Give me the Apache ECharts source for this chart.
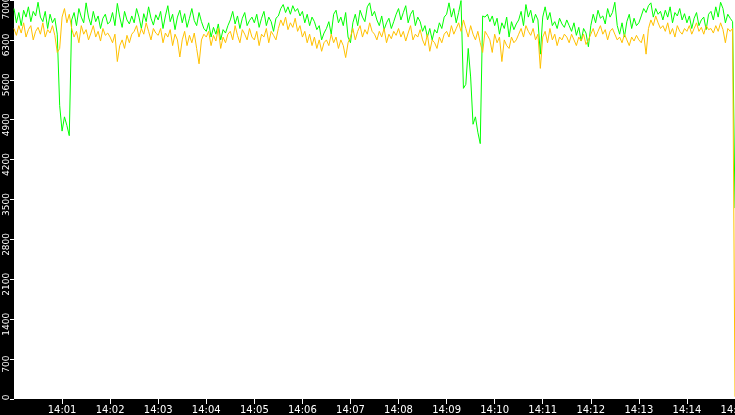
<!DOCTYPE html>
<html><head><meta charset="utf-8">
<script src="https://cdn.jsdelivr.net/npm/echarts@6/dist/echarts.min.js"></script>
<style>html,body{margin:0;padding:0;background:#000;overflow:hidden}#c{width:735px;height:415px}</style>
</head><body><div id="c"></div>
<script>
// sampling: one reading every 3 s from 14:00:00 to 14:15:00
const startHour = 14;
const sampleSeconds = 3;
const greenSeries = [
6850,6600,6780,6550,6820,6700,6880,6620,6800,6720,
6960,6700,6620,6800,6500,6750,6600,6680,
6400,
5150,4700,4950,4800,4620,
6650,6780,6550,6850,6700,6600,
6950,6700,6560,6800,6620,6720,6500,6680,6750,6580,
6620,6780,6550,6940,6700,6520,6800,6650,6580,6720,
6600,6850,6700,6500,6760,6620,6880,6680,6560,6740,
6650,6800,6500,6720,6900,6620,6750,6480,6700,6820,
6600,6760,6520,6680,6850,6640,6550,6780,6620,6500,
6450,6600,6350,6520,6400,6580,6300,6480,6420,6550,
6650,6800,6580,6720,6500,6680,6780,6550,6640,6700,
6600,6750,6520,6680,6800,6550,6700,6620,6450,6680,
6720,6850,6920,6780,6880,6750,6900,6800,6850,6720,
6800,6600,6750,6550,6700,6620,6480,6550,6300,6420,
6500,6620,6400,6750,6820,6600,6700,6550,6780,6350,
6250,6600,6750,6550,6820,6700,6620,6880,6950,6720,
6800,6650,6550,6720,6480,6600,6680,6500,6620,6750,
6850,6650,6780,6900,6600,6750,6820,6550,6700,6620,
6450,6550,6350,6500,6300,6480,6420,6600,6500,6700,
6750,6950,6700,6850,6600,6780,
6990,
5450,5520,6150,5650,4820,4950,4680,4480,6720,
6700,6750,6620,6720,
6550,6680,6400,6600,6500,6700,6350,6620,6480,6580,
6650,6800,6550,6920,6700,6820,6600,6750,6650,6050,
6700,6880,6650,6780,6550,6620,6500,6680,6580,6520,
6650,6550,6450,6600,6380,6520,6280,6500,6420,6180,
6550,6750,6600,6820,6680,6720,6580,6850,6700,6780,
6960,6550,6400,6600,6350,6620,6750,6500,6680,6550,
6600,6720,6850,6780,6900,6950,6700,6850,6750,6800,
6650,6820,6700,6880,6600,6780,6720,6850,6650,6760,
6600,6720,6500,6680,6780,6550,6650,6700,6480,6750,
6800,6650,6880,6700,6960,6850,6600,6750,6680,6620,
3350
];
const orangeSeries = [
6500,6380,6550,6420,6600,6350,6480,6550,6300,6450,
6520,6400,6600,6350,6480,6420,6550,6380,
6080,6150,
6700,6850,6600,6750,
6500,6350,6450,6250,6550,6400,
6480,6300,6420,6550,6350,6450,6280,6500,6380,6420,
6350,6250,6400,5920,6200,6300,6150,6380,6250,6400,
6450,6550,6350,6500,6400,6600,6450,6300,6500,6420,
6380,6500,6250,6420,6350,6480,6200,6400,6300,6000,
6300,6450,6200,6380,6250,6420,6150,5880,6300,6400,
6350,6450,6200,6380,6280,6500,6150,6350,6250,6400,
6450,6300,6550,6380,6250,6480,6400,6300,6500,6350,
6300,6450,6200,6400,6350,6500,6250,6450,6380,6300,
6500,6650,6550,6700,6480,6600,6520,6680,6450,6550,
6350,6450,6250,6400,6200,6350,6150,6300,6100,6250,
6300,6200,6400,6250,6350,6150,6300,6200,5990,6250,
6350,6500,6300,6450,6550,6350,6480,6400,6600,6450,
6400,6300,6450,6350,6500,6250,6400,6320,6450,6380,
6500,6350,6450,6280,6420,6550,6300,6400,6350,6480,
6300,6200,6400,6100,6300,6250,6150,6350,6250,6400,
6450,6350,6550,6400,6500,6600,
6450,6650,6500,6350,6550,6400,6300,6450,6250,6080,
6450,6380,6300,6080,
6400,6250,6350,5920,6300,6200,6150,6350,6250,6300,
6400,6500,6350,6550,6450,6380,6500,6300,6400,5800,
6350,6450,6250,6500,6300,6400,6200,6350,6300,6400,
6350,6250,6400,6300,6200,6350,6280,6400,6220,6300,
6400,6500,6350,6450,6550,6400,6480,6300,6450,6500,
6400,6300,6350,6250,6400,6300,6200,6350,6280,6380,
6300,6250,6400,6050,6500,6650,6550,6720,6600,6500,
6550,6450,6600,6400,6500,6350,6550,6450,6400,6500,
6450,6550,6400,6500,6600,6450,6520,6400,6550,6480,
6500,6420,6550,6450,6600,6480,6250,6500,6450,6500,
40
];
const yMax = 7000, yStep = 700;
const xMaxSeconds = 900, xStepSeconds = 60;

const pair = arr => arr.map((v, i) => [i * sampleSeconds, v]);
const pad = n => (n < 10 ? '0' : '') + n;
const fmtTime = s => { const m = startHour * 60 + Math.round(s / 60); return Math.floor(m / 60) + ':' + pad(m % 60); };
const lab = { color: '#fff', fontFamily: 'DejaVu Sans', fontSize: 9 };

const chart = echarts.init(document.getElementById('c'), null, { renderer: 'canvas' });
chart.setOption({
  animation: false,
  backgroundColor: '#000',
  grid: { left: 14, right: 0, top: 0, bottom: 16, show: true, backgroundColor: '#fff', borderWidth: 0,
          containLabel: false, outerBoundsMode: 'none' },
  xAxis: {
    type: 'value', min: 0, max: xMaxSeconds, interval: xStepSeconds,
    axisLine: { show: false },
    axisTick: { show: true, length: 5, lineStyle: { color: '#fff', width: 1 } },
    splitLine: { show: false },
    axisLabel: { color: '#fff', fontFamily: 'DejaVu Sans', fontSize: 10, margin: 6, showMinLabel: false, showMaxLabel: true, formatter: fmtTime }
  },
  yAxis: {
    type: 'value', min: 0, max: yMax, interval: yStep,
    axisLine: { show: false },
    axisTick: { show: true, length: 4, lineStyle: { color: '#fff', width: 1 } },
    splitLine: { show: false },
    axisLabel: {
      rotate: 90, margin: 3, align: 'center', color: '#fff', fontFamily: 'DejaVu Sans', fontSize: 9,
      showMinLabel: true, showMaxLabel: true,
      formatter: v => v === yMax ? '{t|' + v + '}' : (v === 0 ? '{z|' + v + '}' : '{n|' + v + '}'),
      rich: {
        n: Object.assign({ padding: [0, 10, 0, 0] }, lab),
        t: Object.assign({ padding: [0, 16, 0, 0] }, lab),
        z: Object.assign({ padding: [0, 0, 0, 3] }, lab)
      }
    }
  },
  series: [
    { type: 'line', data: pair(greenSeries), showSymbol: false, symbol: 'none', sampling: null,
      lineStyle: { color: '#00ff00', width: 1 }, itemStyle: { color: '#00ff00' } },
    { type: 'line', data: pair(orangeSeries), showSymbol: false, symbol: 'none', sampling: null,
      lineStyle: { color: '#ffc000', width: 1 }, itemStyle: { color: '#ffc000' } }
  ]
});
</script></body></html>
